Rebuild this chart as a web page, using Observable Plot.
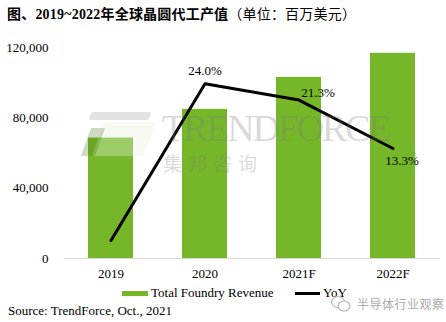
<!DOCTYPE html>
<html>
<head>
<meta charset="utf-8">
<script src="https://cdn.jsdelivr.net/npm/d3@7"></script>
<script src="https://cdn.jsdelivr.net/npm/@observablehq/plot@0.6"></script>
<style>
  html, body { margin: 0; padding: 0; background: #fff; }
  body { width: 446px; height: 322px; position: relative; overflow: hidden;
         font-family: "Liberation Serif", "Noto Sans CJK SC", serif; color: #000; }
  #title { position: absolute; left: 7px; top: 3px; font-size: 14px; white-space: nowrap; letter-spacing: 0.2px; }
  #title b { font-family: "Liberation Serif", "Noto Sans CJK SC", serif; font-weight: bold; }
  #title span { font-family: "Liberation Serif", "Noto Sans CJK SC", serif; font-weight: normal; }
  #chart { position: absolute; left: 0; top: 0; }
  .abs { position: absolute; white-space: nowrap; }
  .leg { font-size: 13px; line-height: 16px; }
  #wm1 { font-family: "Liberation Serif", serif; font-size: 38px; color: rgba(120,120,120,0.28);
         letter-spacing: -2.2px; line-height: 42px; }
  #wm2 { font-family: "Noto Sans CJK SC", sans-serif; font-size: 19px; color: rgba(120,120,120,0.28);
         letter-spacing: 6px; line-height: 20px; }
</style>
</head>
<body>
<div id="title"><b>图、2019~2022年全球晶圆代工产值</b><span>（单位：百万美元）</span></div>
<div id="chart"></div>

<!-- TrendForce watermark -->
<div class="abs" style="left:90px; top:112px; width:60px; height:8px; background:rgba(190,190,190,0.45); transform:skewX(-20deg); border-radius:2px;"></div>
<div class="abs" style="left:98px; top:122px; width:52px; height:34px; background:rgba(230,240,220,0.35); transform:skewX(-20deg); border-radius:2px;"></div>
<div class="abs" style="left:86px; top:128px; width:14px; height:28px; background:rgba(60,110,10,0.25); transform:skewX(-20deg);"></div>
<div class="abs" id="wm1" style="left:162px; top:107px;">TRENDFORCE</div>
<div class="abs" id="wm2" style="left:163px; top:153px;">集邦咨询</div>

<!-- legend -->
<div class="abs" style="left:122px; top:291px; width:26px; height:5px; background:#76b72a;"></div>
<div class="abs leg" style="left:151px; top:285px;">Total Foundry Revenue</div>
<div class="abs" style="left:295px; top:292px; width:25px; height:3px; background:#000;"></div>
<div class="abs leg" style="left:323px; top:285px;">YoY</div>

<!-- wechat watermark -->
<svg class="abs" style="left:330px; top:294px;" width="24" height="20">
  <ellipse cx="8" cy="8" rx="6.5" ry="5.5" fill="none" stroke="#b5b5b5" stroke-width="1.2"/>
  <ellipse cx="14" cy="12" rx="6" ry="5" fill="#fff" stroke="#b5b5b5" stroke-width="1.2"/>
</svg>
<div class="abs" style="left:357px; top:295px; font-family:'Noto Sans CJK SC', sans-serif; font-size:12px; color:#aaa; letter-spacing:0.5px;">半导体行业观察</div>

<div class="abs leg" style="left:8px; top:303px;">Source: TrendForce, Oct., 2021</div>

<script>
// ---- data ----
const years = ["2019", "2020", "2021F", "2022F"];
const revenue = [68500, 84800, 103000, 116700];   // million USD
const yoy = [-1.9, 24.0, 21.3, 13.3];             // %
const yTicks = [0, 40000, 80000, 120000];

const rows = years.map((y, i) => ({year: y, revenue: revenue[i], yoy: yoy[i]}));

// secondary axis (hidden) mapped into revenue units
const yoyToRev = v => 16800 + v * 3442;

const font = "Liberation Serif";
const chart = Plot.plot({
  width: 446,
  height: 285,
  marginTop: 47,
  marginBottom: 27,
  marginLeft: 64,
  marginRight: 6,
  style: {fontFamily: font, fontSize: "13px", color: "#000", background: "transparent"},
  x: {domain: years, paddingInner: 0.52, paddingOuter: 0.26, label: null, tickSize: 0, tickPadding: 10},
  y: {domain: [0, 120000], ticks: yTicks, tickFormat: d3.format(","), label: null, tickSize: 0, tickPadding: 16},
  marks: [
    Plot.barY(rows, {x: "year", y: "revenue", fill: "#76b72a"}),
    Plot.ruleY([0], {stroke: "#d9d9d9", strokeWidth: 1}),
    Plot.line(rows, {x: "year", y: d => yoyToRev(d.yoy), stroke: "#000", strokeWidth: 3}),
    Plot.text(rows.filter(d => d.year === "2020"), {x: "year", y: d => yoyToRev(d.yoy), text: d => d.yoy.toFixed(1) + "%", dy: -13, fontSize: 13}),
    Plot.text(rows.filter(d => d.year === "2021F"), {x: "year", y: d => yoyToRev(d.yoy), text: d => d.yoy.toFixed(1) + "%", dx: 19, dy: -7, fontSize: 13}),
    Plot.text(rows.filter(d => d.year === "2022F"), {x: "year", y: d => yoyToRev(d.yoy), text: d => d.yoy.toFixed(1) + "%", dx: 9, dy: 12, fontSize: 13})
  ]
});
document.getElementById("chart").appendChild(chart);
</script>
</body>
</html>
